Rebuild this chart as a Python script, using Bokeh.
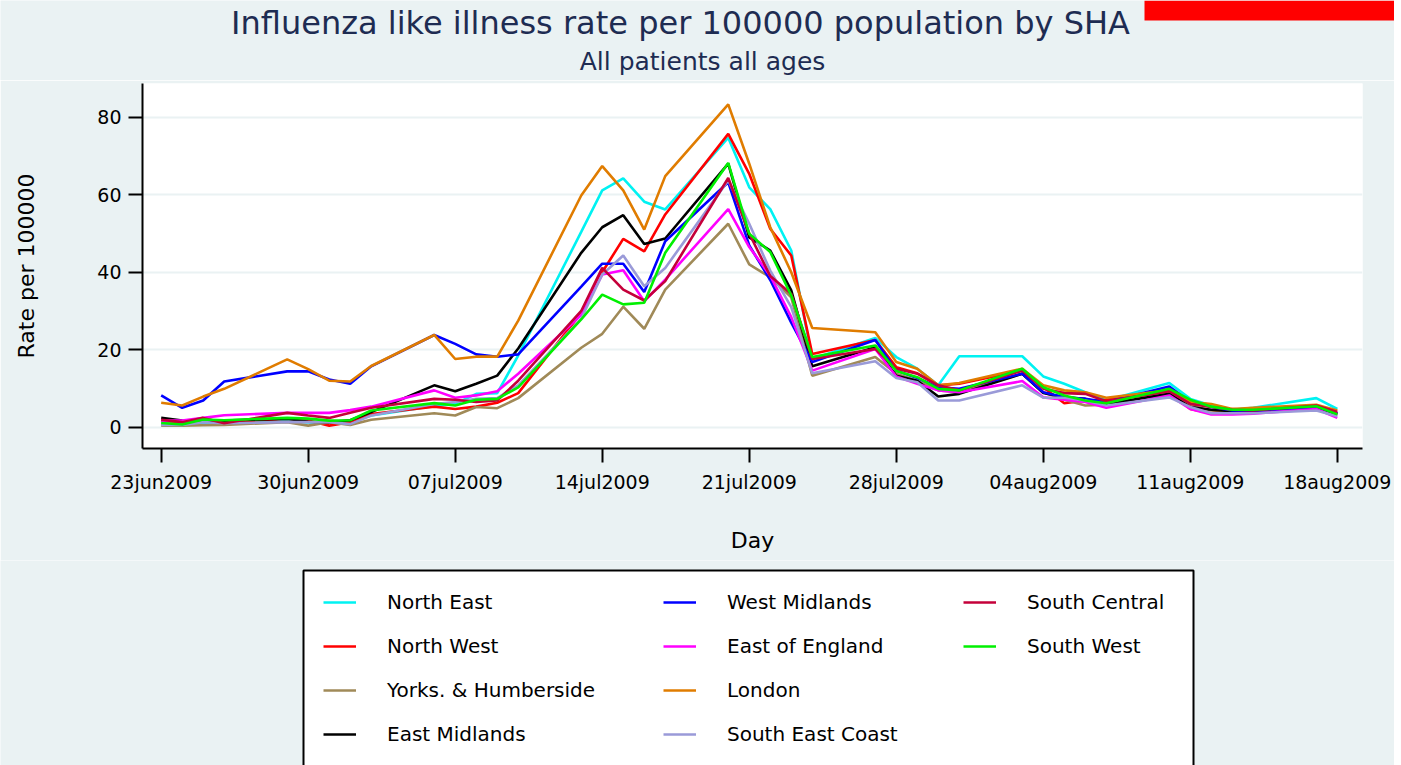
from datetime import datetime
from bokeh.plotting import figure
from bokeh.layouts import column
from bokeh.models import Range1d, FixedTicker, Legend, LegendItem, Label, BoxAnnotation
from bokeh.embed import file_html
from bokeh.resources import INLINE

# ---------------- data ----------------
dates = ["23jun2009", "24jun2009", "25jun2009", "26jun2009",
         "29jun2009", "30jun2009", "01jul2009", "02jul2009", "03jul2009",
         "06jul2009", "07jul2009", "08jul2009", "09jul2009", "10jul2009",
         "13jul2009", "14jul2009", "15jul2009", "16jul2009", "17jul2009",
         "20jul2009", "21jul2009", "22jul2009", "23jul2009", "24jul2009",
         "27jul2009", "28jul2009", "29jul2009", "30jul2009", "31jul2009",
         "03aug2009", "04aug2009", "05aug2009", "06aug2009", "07aug2009",
         "10aug2009", "11aug2009", "12aug2009", "13aug2009", "14aug2009",
         "17aug2009", "18aug2009"]

tick_labels = ["23jun2009", "30jun2009", "07jul2009", "14jul2009", "21jul2009",
               "28jul2009", "04aug2009", "11aug2009", "18aug2009"]

y_ticks = [0, 20, 40, 60, 80]

north_east = [1.0, 0.8, 1.0, 1.2, 1.5, 1.2, 1.0, 1.5, 3.0, 5.5, 6.0, 8.6, 8.8, 18.5,
              50.4, 61.1, 64.2, 58.2, 56.2, 74.7, 61.9, 56.3, 45.6, 17.6,
              23.0, 18.1, 15.1, 10.8, 18.3, 18.3, 13.1, 11.2, 9.0, 6.9,
              11.4, 7.3, 5.6, 4.5, 5.0, 7.5, 4.7]
north_west = [1.7, 1.3, 2.2, 1.3, 2.2, 1.7, 0.4, 1.3, 3.4, 5.3, 4.7, 5.3, 6.3, 8.8,
              29.5, 40.0, 48.6, 45.4, 54.9, 75.7, 65.4, 51.2, 44.3, 18.9,
              22.5, 15.5, 13.9, 10.8, 11.2, 14.6, 10.3, 6.2, 6.9, 7.1,
              9.0, 4.7, 3.6, 4.7, 4.5, 5.0, 3.5]
yorks = [0.4, 0.4, 0.5, 0.6, 1.3, 0.4, 1.3, 0.6, 1.9, 3.6, 3.0, 5.2, 4.9, 7.5,
         20.5, 24.1, 31.1, 25.4, 35.5, 52.5, 42.0, 38.7, 33.5, 13.3,
         18.1, 13.8, 12.0, 9.5, 9.0, 13.8, 9.0, 7.1, 5.6, 5.8,
         8.8, 5.6, 4.3, 4.3, 4.3, 5.3, 3.0]
east_midlands = [2.4, 1.7, 1.4, 1.7, 2.2, 1.4, 1.3, 1.8, 3.9, 10.8, 9.3, 11.2, 13.3, 20.3,
                 45.0, 51.6, 54.7, 47.3, 48.7, 68.0, 49.0, 45.6, 35.3, 15.7,
                 20.6, 13.3, 12.0, 7.9, 8.6, 13.8, 8.8, 7.7, 7.3, 6.0,
                 8.6, 5.2, 4.5, 4.1, 4.0, 5.2, 3.4]
west_midlands = [8.2, 5.0, 6.9, 11.8, 14.4, 14.4, 12.3, 11.2, 15.7, 23.8, 21.5, 18.8, 18.2, 18.8,
                 36.3, 42.2, 42.2, 34.9, 48.0, 63.2, 46.9, 38.0, 27.0, 16.8,
                 22.5, 14.6, 12.7, 10.3, 9.9, 13.8, 9.0, 7.7, 7.3, 6.5,
                 10.5, 6.5, 5.2, 4.3, 4.1, 5.2, 3.6]
east_of_england = [1.7, 1.7, 2.4, 3.1, 3.7, 3.7, 3.7, 4.4, 5.3, 9.5, 7.6, 8.2, 9.3, 13.8,
                   29.0, 39.4, 40.5, 32.5, 38.1, 56.3, 46.5, 39.1, 28.4, 14.6,
                   20.2, 13.1, 11.2, 9.5, 9.0, 11.9, 7.7, 7.1, 6.5, 5.0,
                   8.2, 4.7, 3.3, 3.3, 3.5, 4.7, 2.4]
london = [6.3, 5.6, 7.9, 9.9, 17.5, 15.0, 12.0, 11.8, 15.8, 23.8, 17.6, 18.2, 18.2, 27.5,
          59.8, 67.4, 61.1, 51.0, 64.8, 83.3, 68.0, 51.6, 40.0, 25.6,
          24.5, 16.8, 15.1, 10.8, 11.4, 15.1, 10.8, 9.5, 9.0, 7.6,
          9.5, 6.5, 6.0, 4.7, 5.0, 5.8, 4.3]
south_east_coast = [0.6, 0.6, 1.3, 1.0, 1.3, 1.3, 1.3, 0.8, 3.0, 6.0, 6.5, 7.3, 7.5, 10.8,
                    28.0, 39.4, 44.3, 36.4, 41.1, 63.7, 52.5, 40.4, 31.0, 13.9,
                    17.0, 12.7, 11.6, 6.9, 6.9, 10.8, 7.6, 7.6, 6.9, 5.6,
                    7.7, 5.2, 3.6, 3.6, 3.6, 4.3, 2.8]
south_central = [1.9, 1.3, 2.4, 1.0, 3.7, 3.0, 2.4, 3.7, 5.0, 7.3, 7.1, 6.5, 6.9, 12.0,
                 30.0, 41.1, 35.5, 32.7, 37.7, 64.3, 50.0, 39.0, 34.4, 17.6,
                 20.2, 15.1, 13.8, 10.8, 9.5, 14.6, 9.9, 8.8, 8.6, 6.7,
                 9.3, 6.0, 5.2, 4.5, 4.3, 5.6, 3.9]
south_west = [1.1, 0.7, 2.0, 1.8, 2.4, 2.2, 1.7, 1.8, 4.3, 6.2, 5.6, 7.1, 7.3, 10.3,
              27.8, 34.2, 31.7, 32.1, 45.0, 68.2, 49.9, 45.2, 34.0, 18.1,
              21.1, 14.5, 12.9, 9.9, 9.5, 15.1, 10.3, 8.2, 6.9, 6.2,
              9.9, 7.1, 5.3, 4.5, 4.5, 5.4, 3.3]

series_names = ["North East", "North West", "Yorks. & Humberside", "East Midlands",
                "West Midlands", "East of England", "London", "South East Coast",
                "South Central", "South West"]
series_values = [north_east, north_west, yorks, east_midlands, west_midlands,
                 east_of_england, london, south_east_coast, south_central, south_west]
series_colors = ["#00F2F2", "#FF0000", "#A08A58", "#000000", "#0000FF",
                 "#FF00FF", "#E07C00", "#9A9AD8", "#C4003A", "#00F000"]

# ---------------- helpers ----------------
def to_day(s):
    return (datetime.strptime(s, "%d%b%Y") - datetime.strptime(dates[0], "%d%b%Y")).days

x_days = [to_day(d) for d in dates]
tick_days = [to_day(t) for t in tick_labels]

FONT = "DejaVu Sans"
BG = "#EAF2F3"
NAVY = "#1E2C52"
W = 1394


def blank_fig(height):
    f = figure(width=W, height=height, output_backend="svg", toolbar_location=None,
               x_range=Range1d(0, 1), y_range=Range1d(0, 1),
               x_axis_location=None, y_axis_location=None,
               min_border=0, min_border_left=0, min_border_right=0,
               min_border_top=0, min_border_bottom=0, frame_align=False,
               background_fill_color=BG, border_fill_color=BG, outline_line_color=None)
    f.xgrid.visible = False
    f.ygrid.visible = False
    return f


# ---------------- title strip ----------------
TH = 80
pt = blank_fig(TH)
pt.add_layout(BoxAnnotation(left=1144, right=W, top=TH, bottom=TH - 20,
                            left_units="screen", right_units="screen",
                            top_units="screen", bottom_units="screen",
                            fill_color="#FF0000", fill_alpha=1.0, line_color=None))
pt.add_layout(Label(x=680, y=TH - 22, x_units="screen", y_units="screen",
                    text="Influenza like illness rate per 100000 population by SHA",
                    text_align="center", text_baseline="middle",
                    text_font=FONT, text_font_size="32px", text_color=NAVY))
pt.add_layout(Label(x=702, y=TH - 61, x_units="screen", y_units="screen",
                    text="All patients all ages",
                    text_align="center", text_baseline="middle",
                    text_font=FONT, text_font_size="25px", text_color=NAVY))

# ---------------- main plot ----------------
MH = 480
p = figure(width=W, height=MH, output_backend="svg", toolbar_location=None,
           x_range=Range1d(-0.89, 57.2), y_range=Range1d(-5.5, 88.7),
           min_border_left=142, min_border_right=W - 1362,
           min_border_top=3, min_border_bottom=MH - (448 - TH), frame_align=False,
           background_fill_color="white", border_fill_color=BG, outline_line_color=None)

p.xgrid.grid_line_color = None
p.ygrid.grid_line_color = BG
p.ygrid.grid_line_width = 2
p.ygrid.ticker = FixedTicker(ticks=y_ticks)

for ax in (p.xaxis[0], p.yaxis[0]):
    ax.axis_line_width = 2
    ax.axis_line_color = "black"
    ax.major_tick_line_width = 2
    ax.major_tick_line_color = "black"
    ax.major_tick_out = 14
    ax.major_tick_in = 0
    ax.minor_tick_line_color = None
    ax.major_label_text_font = FONT
    ax.major_label_text_font_size = "19px"
    ax.major_label_text_color = "black"
    ax.axis_label_text_font = FONT
    ax.axis_label_text_font_size = "22px"
    ax.axis_label_text_font_style = "normal"
    ax.axis_label_text_color = "black"

p.xaxis.ticker = FixedTicker(ticks=tick_days)
p.xaxis.major_label_overrides = {d: t for d, t in zip(tick_days, tick_labels)}
p.xaxis.major_label_standoff = 8
p.xaxis.axis_label = "Day"
p.xaxis.axis_label_standoff = 32
p.yaxis.ticker = FixedTicker(ticks=y_ticks)
p.yaxis.major_label_standoff = 7
p.yaxis.axis_label = "Rate per 100000"
p.yaxis.axis_label_standoff = 55

for name, vals, col in zip(series_names, series_values, series_colors):
    p.line(x_days, vals, line_color=col, line_width=2.6)

# ---------------- legend strip ----------------
LH = 765 - TH - MH
pl = blank_fig(LH)
pl.add_layout(BoxAnnotation(left=303, right=1193, top=LH - (570 - TH - MH), bottom=-20,
                            left_units="screen", right_units="screen",
                            top_units="screen", bottom_units="screen",
                            fill_color="white", fill_alpha=1.0,
                            line_color="black", line_width=2, line_alpha=1.0))

# legend-only renderers (kept outside the visible range of this strip)
leg_renderers = {}
for name, col in zip(series_names, series_colors):
    leg_renderers[name] = pl.line(x=[-5, -4], y=[-5, -5], line_color=col, line_width=2.6)

columns = [series_names[0:4], series_names[4:8], series_names[8:10]]
col_x = [323, 663, 963]
rows_top = 580 - TH - MH
for names, vx in zip(columns, col_x):
    items = [LegendItem(label=n, renderers=[leg_renderers[n]]) for n in names]
    h = 44 * len(names)
    lg = Legend(items=items, location=(vx, LH - rows_top - h), orientation="vertical",
                padding=0, margin=0, spacing=0,
                glyph_width=33, glyph_height=44, label_height=44, label_standoff=31,
                label_text_font=FONT, label_text_font_size="20px", label_text_color="black",
                border_line_color=None, background_fill_alpha=0)
    pl.add_layout(lg)

layout = column(pt, p, pl, spacing=0)
open("out.html", "w").write(file_html(layout, INLINE))
